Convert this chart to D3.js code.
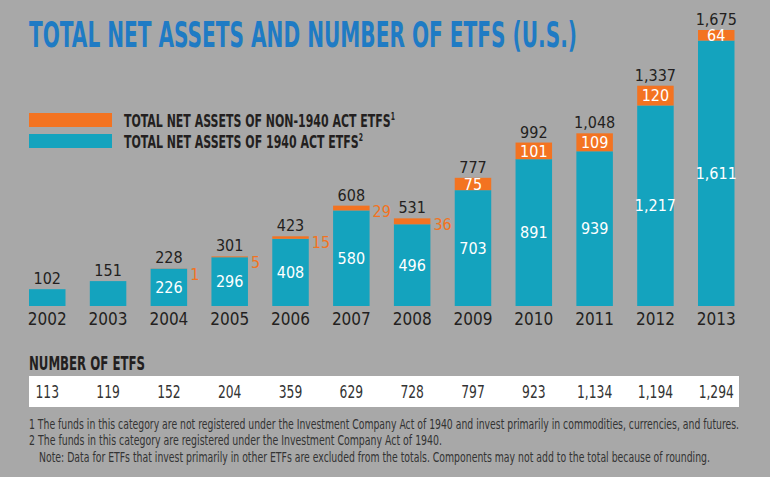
<!DOCTYPE html>
<html>
<head>
<meta charset="utf-8">
<script src="https://cdn.jsdelivr.net/npm/d3@7"></script>
<style>
  html, body { margin: 0; padding: 0; background: #a8a8a8; }
  svg { display: block; }
</style>
</head>
<body>
<svg id="chart" width="770" height="477"></svg>
<script>
const years = ["2002","2003","2004","2005","2006","2007","2008","2009","2010","2011","2012","2013"];
const act1940 = [102, 151, 226, 296, 408, 580, 496, 703, 891, 939, 1217, 1611];
const non1940 = [0, 0, 1, 5, 15, 29, 36, 75, 101, 109, 120, 64];
const totals = [102, 151, 228, 301, 423, 608, 531, 777, 992, 1048, 1337, 1675];
const etfCounts = [113, 119, 152, 204, 359, 629, 728, 797, 923, 1134, 1194, 1294];
const legendLabels = ["TOTAL NET ASSETS OF NON-1940 ACT ETFS", "TOTAL NET ASSETS OF 1940 ACT ETFS"];
const footnotes = [
  "1 The funds in this category are not registered under the Investment Company Act of 1940 and invest primarily in commodities, currencies, and futures.",
  "2 The funds in this category are registered under the Investment Company Act of 1940.",
  "Note: Data for ETFs that invest primarily in other ETFs are excluded from the totals. Components may not add to the total because of rounding."
];

const C = { bg: "#a8a8a8", teal: "#14a3be", orange: "#f37321", blue: "#1f7bc4", dark: "#231f20", text: "#333333" };
const COND = "'DejaVu Sans Condensed', 'DejaVu Sans', sans-serif";

const svg = d3.select("#chart");
svg.append("rect").attr("width", 770).attr("height", 477).attr("fill", C.bg);

// Title
svg.append("text").attr("x", 29).attr("y", 47)
  .attr("font-family", COND).attr("font-weight", "bold").attr("font-size", 36)
  .attr("fill", C.blue).attr("textLength", 548).attr("lengthAdjust", "spacingAndGlyphs")
  .text("TOTAL NET ASSETS AND NUMBER OF ETFS (U.S.)");

// Legend
const legY = [113, 134];
const legCol = [C.orange, C.teal];
const legW = [271, 239];
legendLabels.forEach((l, i) => {
  svg.append("rect").attr("x", 29).attr("y", legY[i]).attr("width", 83).attr("height", 14).attr("fill", legCol[i]);
  const t = svg.append("text").attr("x", 124).attr("y", legY[i] + 14)
    .attr("font-family", COND).attr("font-weight", "bold").attr("font-size", 18)
    .attr("fill", C.dark).attr("textLength", legW[i]).attr("lengthAdjust", "spacingAndGlyphs");
  t.append("tspan").text(l);
  t.append("tspan").attr("font-size", 10).attr("dy", -7).text(String(i + 1));
});

// Scales
const x = d3.scaleBand().domain(years).range([29, 734.5]).paddingInner(0.4).paddingOuter(0);
const y = d3.scaleLinear().domain([0, 1675]).range([306, 30]);
const bw = x.bandwidth();

const data = years.map((yr, i) => ({ yr, a: act1940[i], n: non1940[i], t: totals[i], c: etfCounts[i] }));

const g = svg.append("g");
g.selectAll("rect.a").data(data).join("rect").attr("class", "a")
  .attr("x", d => x(d.yr)).attr("width", bw)
  .attr("y", d => y(d.a)).attr("height", d => y(0) - y(d.a)).attr("fill", C.teal);
g.selectAll("rect.n").data(data.filter(d => d.n > 0)).join("rect").attr("class", "n")
  .attr("x", d => x(d.yr)).attr("width", bw)
  .attr("y", d => y(d.a + d.n)).attr("height", d => y(d.a) - y(d.a + d.n)).attr("fill", C.orange);

// Total labels
g.selectAll("text.tot").data(data).join("text").attr("class", "tot")
  .attr("x", d => x(d.yr) + bw / 2).attr("y", d => y(Math.max(d.t, d.a + d.n)) - 5)
  .attr("text-anchor", "middle").attr("font-family", COND).attr("font-size", 16)
  .attr("fill", C.dark).text(d => d3.format(",")(d.t));

// 1940 inner labels
g.selectAll("text.ai").data(data.filter(d => d.n > 0)).join("text").attr("class", "ai")
  .attr("x", d => x(d.yr) + bw / 2).attr("y", d => (y(d.a) + y(0)) / 2).attr("dy", "0.36em")
  .attr("text-anchor", "middle").attr("font-family", COND).attr("font-size", 16)
  .attr("fill", "#ffffff").text(d => d3.format(",")(d.a));

// non-1940 labels
const big = d => d.n >= 60;
g.selectAll("text.ni").data(data.filter(d => d.n > 0 && big(d))).join("text").attr("class", "ni")
  .attr("x", d => x(d.yr) + bw / 2).attr("y", d => (y(d.a) + y(d.a + d.n)) / 2).attr("dy", "0.36em")
  .attr("text-anchor", "middle").attr("font-family", COND).attr("font-size", 16)
  .attr("fill", "#ffffff").text(d => d.n);
g.selectAll("text.no").data(data.filter(d => d.n > 0 && !big(d))).join("text").attr("class", "no")
  .attr("x", d => x(d.yr) + bw + 3).attr("y", d => y(d.a + d.n) + 11.5)
  .attr("font-family", COND).attr("font-size", 16)
  .attr("fill", C.orange).text(d => d.n);

// Year axis labels
const xAxis = d3.axisBottom(x).tickSize(0).tickPadding(0);
const ax = svg.append("g").attr("transform", "translate(0,313)").call(xAxis);
ax.select(".domain").remove();
ax.selectAll("text").attr("font-family", COND).attr("font-size", 17)
  .attr("fill", C.dark).attr("dy", "0.71em");

// Number of ETFs
svg.append("text").attr("x", 29).attr("y", 370)
  .attr("font-family", COND).attr("font-weight", "bold").attr("font-size", 20)
  .attr("fill", C.dark).attr("textLength", 116).attr("lengthAdjust", "spacingAndGlyphs")
  .text("NUMBER OF ETFS");
svg.append("rect").attr("x", 29).attr("y", 376).attr("width", 710).attr("height", 31).attr("fill", "#ffffff");
svg.selectAll("text.cnt").data(data).join("text").attr("class", "cnt")
  .attr("x", d => x(d.yr) + bw / 2).attr("y", 398)
  .attr("text-anchor", "middle").attr("font-family", COND).attr("font-size", 18)
  .attr("fill", C.text).text(d => d3.format(",")(d.c))
  .each(function () {
    const w = this.getComputedTextLength();
    d3.select(this).attr("textLength", w * 0.76).attr("lengthAdjust", "spacingAndGlyphs");
  });

// Footnotes
const fnX = [29, 29, 39];
const fnY = [429, 445, 462];
const fnW = [710, 413, 671];
footnotes.forEach((f, i) => {
  svg.append("text").attr("x", fnX[i]).attr("y", fnY[i])
    .attr("font-family", COND).attr("font-size", 13.5)
    .attr("fill", C.text).attr("textLength", fnW[i]).attr("lengthAdjust", "spacingAndGlyphs")
    .text(f);
});
</script>
</body>
</html>
